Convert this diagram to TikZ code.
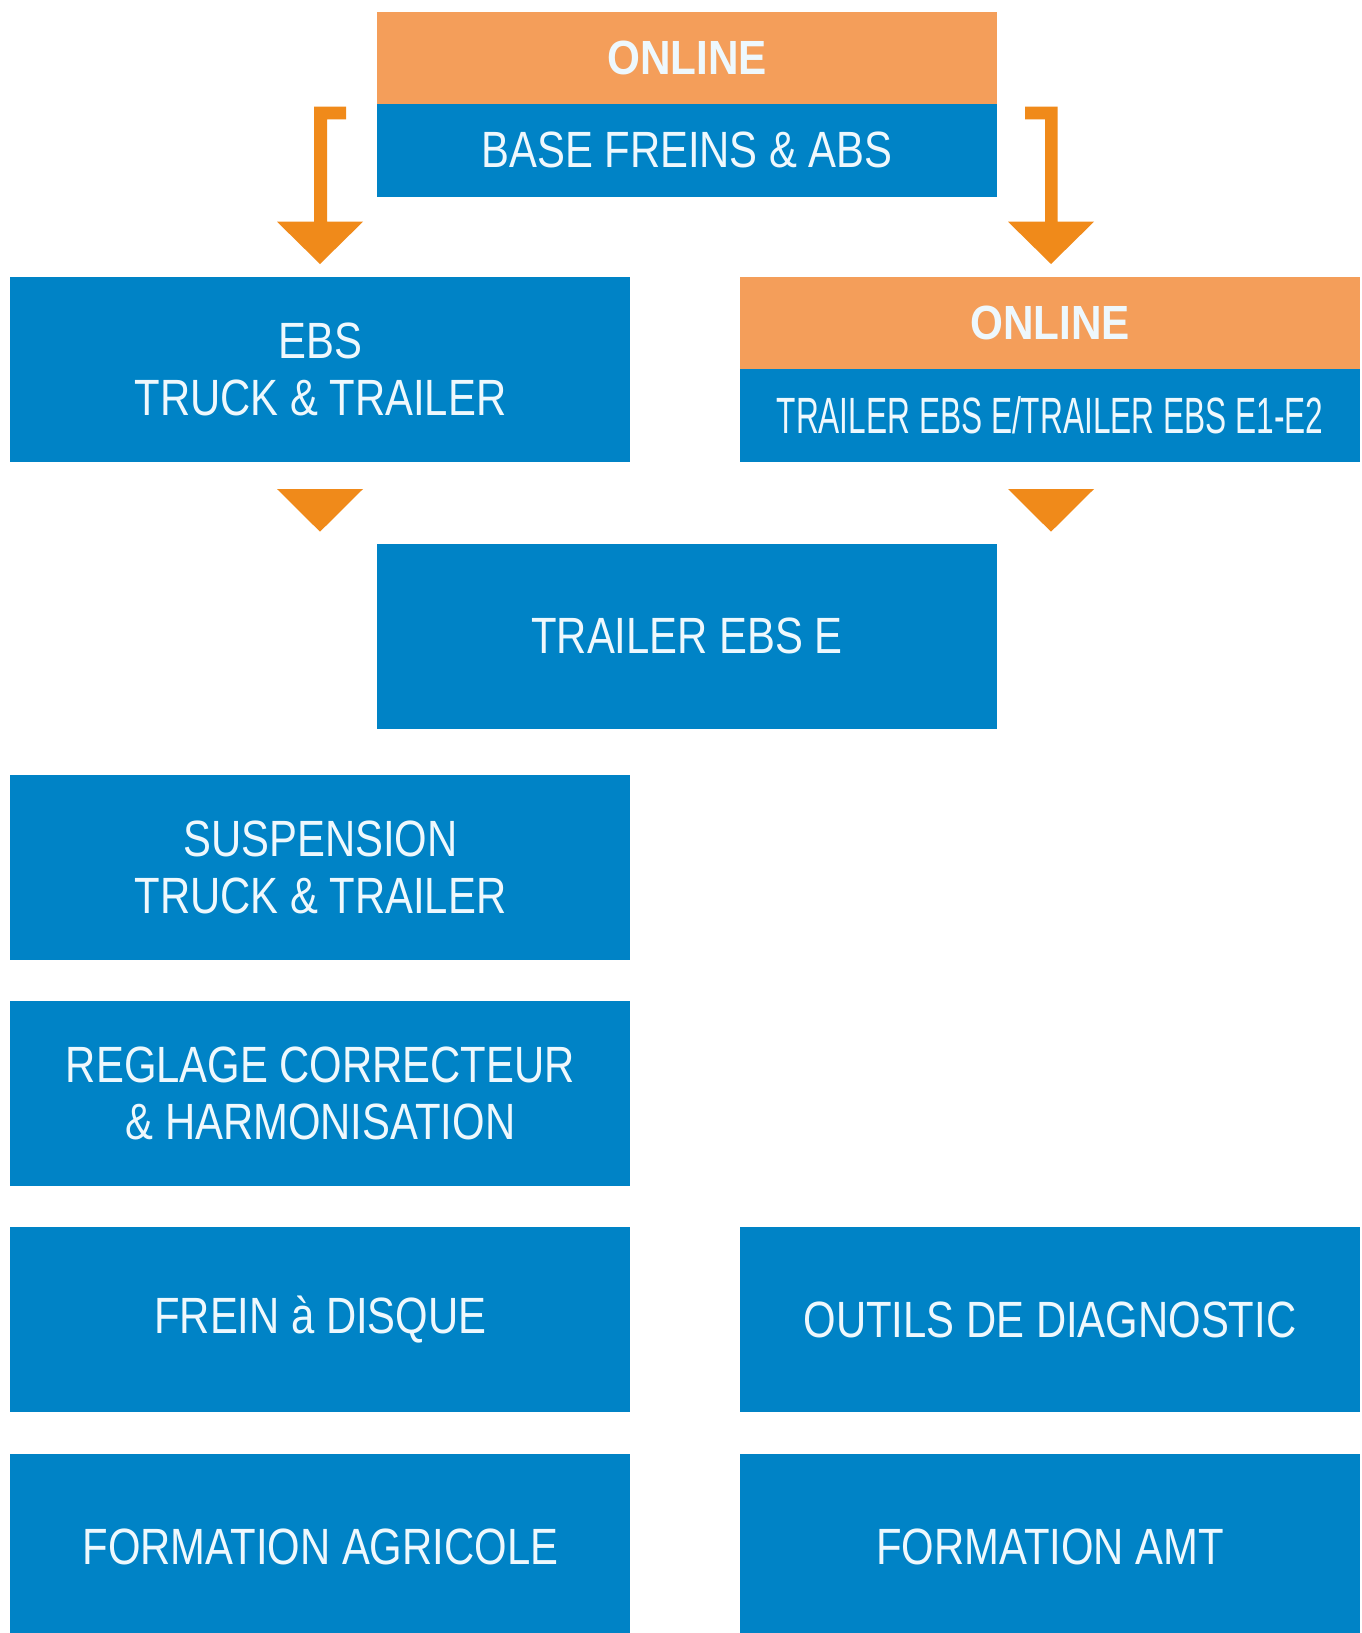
\documentclass[tikz,border=0pt]{standalone}
\usepackage{fontspec}
\setmainfont{Liberation Sans}[FakeStretch=0.82]
\newfontfamily\condfont{Liberation Sans}[FakeStretch=0.62]
\newfontfamily\onlinefont{Liberation Sans}[FakeStretch=0.88]
\definecolor{boxblue}{HTML}{0083C6}
\definecolor{boxorange}{HTML}{F49E5A}
\definecolor{arroworange}{HTML}{F08A1A}
\definecolor{txt}{HTML}{EEF8FD}
\begin{document}
\begin{tikzpicture}[x=1pt,y=-1pt,
  bluebox/.style={rectangle, fill=boxblue, draw=none, inner sep=0pt, outer sep=0pt,
    minimum width=620pt, minimum height=185pt, anchor=north west, text=txt, align=center,
    font=\fontsize{51}{57}\selectfont},
  halfblue/.style={bluebox, minimum height=93pt},
  halforange/.style={bluebox, fill=boxorange, minimum height=92pt,
    font=\onlinefont\bfseries\fontsize{48}{54}\selectfont},
  arr/.style={fill=arroworange, draw=none}]
\useasboundingbox (0,0) rectangle (1362,1633);
\fill[white] (0,0) rectangle (1362,1633);

% top box
\node[halforange] (online1) at (377,11.5) {ONLINE};
\node[halfblue] (base) at (377,103.5) {BASE FREINS \& ABS};

% second row
\node[bluebox] (ebs) at (10.4,277) {EBS\\TRUCK \& TRAILER};
\node[halforange] (online2) at (740,277) {ONLINE};
\node[halfblue, font=\condfont\fontsize{51}{57}\selectfont] (trailer12) at (740,369) {TRAILER EBS E/TRAILER EBS E1-E2};

% third row
\node[bluebox] (trailerE) at (377,543.5) {TRAILER EBS E};

% left column
\node[bluebox] (susp) at (10.4,775) {SUSPENSION\\TRUCK \& TRAILER};
\node[bluebox] (regl) at (10.4,1001) {REGLAGE CORRECTEUR\\\& HARMONISATION};
\node[bluebox] (frein) at (10.4,1227) {FREIN à DISQUE};
\node[bluebox, minimum height=179pt] (agri) at (10.4,1454) {};
\node[text=txt, font=\fontsize{51}{57}\selectfont] (agrit) at ([yshift=-92.5pt]agri.north) {FORMATION AGRICOLE};

% right column
\node[bluebox] (outils) at (740,1227) {OUTILS DE DIAGNOSTIC};
\node[bluebox, minimum height=179pt] (amt) at (740,1454) {};
\node[text=txt, font=\fontsize{51}{57}\selectfont] (amtt) at ([yshift=-92.5pt]amt.north) {FORMATION AMT};

% bracket arrows
\fill[arr] (314,106.7) -- (346,106.7) -- (346,119.3) -- (327,119.3) -- (327,221.7)
  -- (363,221.7) -- (320,264) -- (277,221.7) -- (314,221.7) -- cycle;
\fill[arr] (1057.7,106.7) -- (1025,106.7) -- (1025,119.3) -- (1045,119.3) -- (1045,221.7)
  -- (1008,221.7) -- (1051,264) -- (1094,221.7) -- (1057.7,221.7) -- cycle;

% triangles
\fill[arr] (277,489) -- (363,489) -- (320,531.7) -- cycle;
\fill[arr] (1008,489) -- (1094,489) -- (1051,531.7) -- cycle;
\end{tikzpicture}
\end{document}
